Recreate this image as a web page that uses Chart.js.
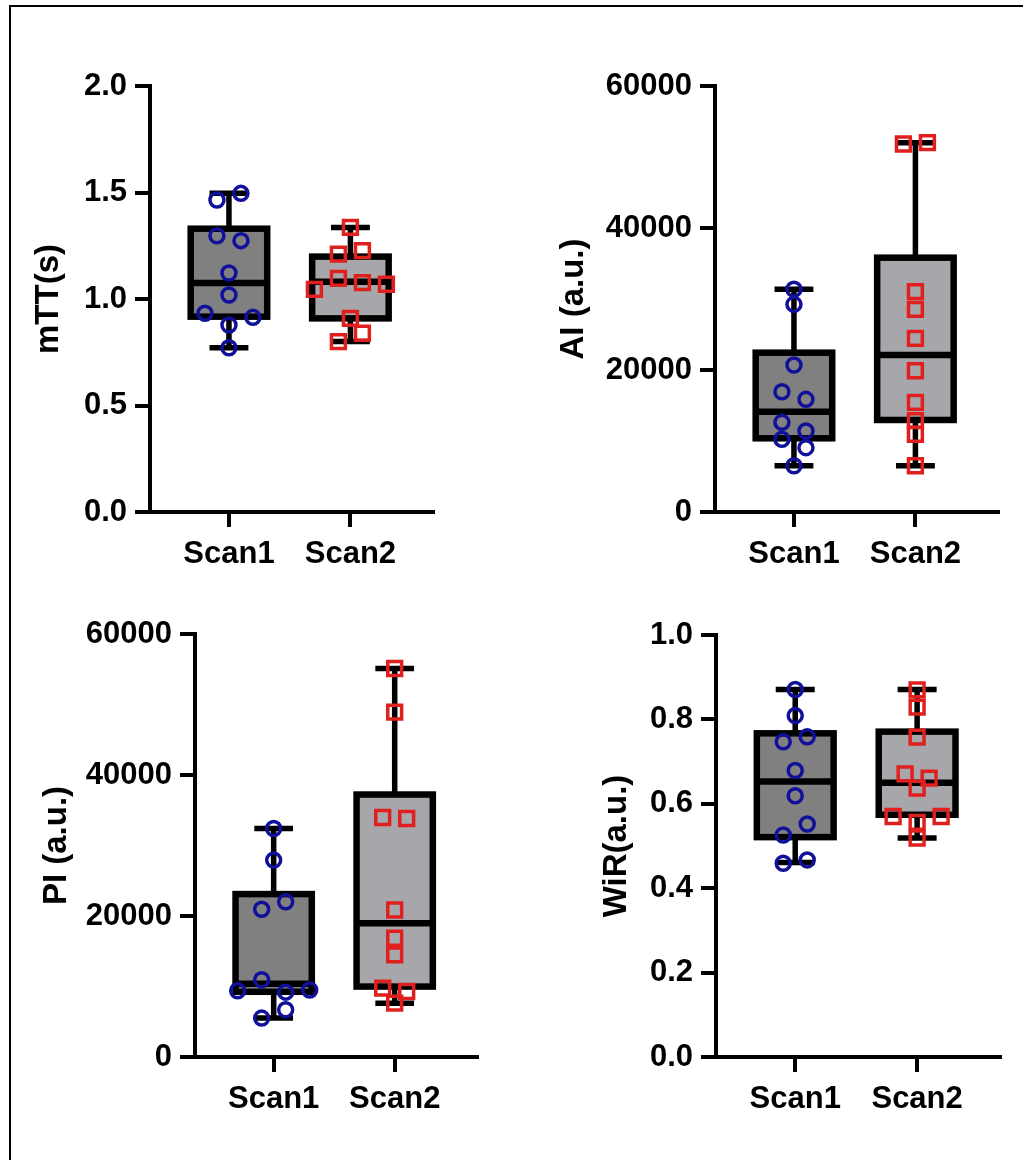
<!DOCTYPE html>
<html>
<head>
<meta charset="utf-8">
<script src="https://cdn.jsdelivr.net/npm/chart.js@4.4.1/dist/chart.umd.min.js"></script>
<style>
    html, body { margin: 0; padding: 0; background: #fff; }
    #page { position: relative; width: 1023px; height: 1160px; overflow: hidden; }
    #frame { position: absolute; left: 9px; top: 5px; width: 1100px; height: 1200px;
             border-top: 2px solid #000; border-left: 2px solid #000; }
    canvas { position: absolute; }
</style>
</head>
<body>
<div id="page">
    <div id="frame"></div>
    <canvas id="mttChart" width="511" height="580" style="left:0;top:0"></canvas>
    <canvas id="aiChart" width="512" height="580" style="left:511px;top:0"></canvas>
    <canvas id="piChart" width="511" height="580" style="left:0;top:580px"></canvas>
    <canvas id="wirChart" width="512" height="580" style="left:511px;top:580px"></canvas>
</div>
<script>
var categories = ['Scan1', 'Scan2'];

// values listed in the order they are laid out side by side
var mttScan1 = [1.465, 1.496, 1.297, 1.274, 1.122, 1.019, 0.933, 0.878, 0.914, 0.771];
var mttScan2 = [1.336, 1.211, 1.227, 1.045, 1.097, 1.077, 1.069, 0.909, 0.800, 0.839];
var aiScan1 = [31370, 29250, 20700, 16940, 15870, 12630, 11410, 10240, 9060, 6520];
var aiScan2 = [51830, 52020, 31030, 28540, 24460, 19900, 15450, 12860, 10950, 6520];
var piScan1 = [32410, 27930, 20950, 22030, 9400, 10950, 9200, 9500, 5520, 6700];
var piScan2 = [55100, 48920, 33970, 33830, 20850, 16840, 14480, 9770, 9290, 7640];
var wirScan1 = [0.871, 0.809, 0.747, 0.759, 0.679, 0.619, 0.526, 0.552, 0.459, 0.467];
var wirScan2 = [0.870, 0.829, 0.758, 0.671, 0.661, 0.637, 0.570, 0.556, 0.570, 0.519];

// box stats: min, q1, median, q3, max
var mttBox1 = [0.771, 0.917, 1.075, 1.330, 1.496];
var mttBox2 = [0.800, 0.909, 1.081, 1.199, 1.336];
var aiBox1 = [6520, 10380, 14130, 22440, 31370];
var aiBox2 = [6520, 12960, 22110, 35820, 52020];
var piBox1 = [5520, 9250, 10400, 23110, 32410];
var piBox2 = [7640, 9990, 18970, 37230, 55100];
var wirBox1 = [0.461, 0.521, 0.653, 0.767, 0.871];
var wirBox2 = [0.519, 0.574, 0.650, 0.771, 0.871];

var mttTicks = [0, 0.5, 1.0, 1.5, 2.0];
var aiTicks = [0, 20000, 40000, 60000];
var piTicks = [0, 20000, 40000, 60000];
var wirTicks = [0, 0.2, 0.4, 0.6, 0.8, 1.0];

var FONT = "'Liberation Sans', Arial, Helvetica, sans-serif";
var TITLE_SIZE = 33;
var BOX_FILLS = ['#808080', '#a6a6ab'];
var SWARM_STEP = 24;
var ROW_GAP = 13;

// spread points of similar value side by side, in pixel space
var swarmPlugin = {
    id: 'swarm',
    afterDatasetsUpdate: function (chart) {
        var xs = chart.scales.x;
        chart.data.datasets.forEach(function (ds, di) {
            var meta = chart.getDatasetMeta(di);
            var pts = meta.data.map(function (el, i) { return { el: el, i: i, y: el.y }; });
            pts.sort(function (a, b) { return (a.y - b.y) || (a.i - b.i); });
            var row = [];
            function flush() {
                row.sort(function (a, b) { return a.i - b.i; });
                row.forEach(function (p, k) {
                    p.el.x = xs.getPixelForValue(ds.data[p.i].x) + (k - (row.length - 1) / 2) * SWARM_STEP;
                });
                row = [];
            }
            pts.forEach(function (p) {
                if (row.length && p.y - row[0].y >= ROW_GAP) {
                    flush();
                }
                row.push(p);
            });
            flush();
        });
    }
};

var boxPlugin = {
    id: 'boxes',
    beforeDatasetsDraw: function (chart, args, opts) {
        var ctx = chart.ctx;
        var x = chart.scales.x;
        var y = chart.scales.y;
        ctx.save();
        ctx.strokeStyle = '#000';
        ctx.lineCap = 'butt';
        ctx.lineJoin = 'miter';
        opts.stats.forEach(function (s, k) {
            var c = k + 1;
            var cx = x.getPixelForValue(c);
            var bl = x.getPixelForValue(c - 0.315);
            var br = x.getPixelForValue(c + 0.315);
            var cl = x.getPixelForValue(c - 0.16);
            var cr = x.getPixelForValue(c + 0.16);
            var yMin = y.getPixelForValue(s[0]);
            var yQ1 = y.getPixelForValue(s[1]);
            var yMed = y.getPixelForValue(s[2]);
            var yQ3 = y.getPixelForValue(s[3]);
            var yMax = y.getPixelForValue(s[4]);

            ctx.lineWidth = 5.5;
            ctx.beginPath();
            ctx.moveTo(cx, yMax);
            ctx.lineTo(cx, yMin);
            ctx.moveTo(cl, yMax);
            ctx.lineTo(cr, yMax);
            ctx.moveTo(cl, yMin);
            ctx.lineTo(cr, yMin);
            ctx.stroke();

            ctx.fillStyle = BOX_FILLS[k];
            ctx.fillRect(bl, yQ3, br - bl, yQ1 - yQ3);
            ctx.lineWidth = 6.5;
            ctx.strokeRect(bl, yQ3, br - bl, yQ1 - yQ3);
            ctx.beginPath();
            ctx.moveTo(bl, yMed);
            ctx.lineTo(br, yMed);
            ctx.stroke();
        });
        ctx.restore();
    }
};

function createPanel(id, title, scan1, scan2, box1, box2, ticks, decimals, layout) {
    var el = document.getElementById(id);
    var cl = parseInt(el.style.left, 10) || 0;
    var ct = parseInt(el.style.top, 10) || 0;
    var titleHalf = TITLE_SIZE * 1.2 / 2;
    var padLeft = layout.tx - titleHalf - cl;
    var yWidth = layout.ax - cl - padLeft;
    var xHeight = ct + el.height - layout.ab;

    function points(values, c) {
        return values.map(function (v) { return { x: c, y: v }; });
    }

    new Chart(el, {
        type: 'scatter',
        data: {
            datasets: [
                {
                    data: points(scan1, 1),
                    pointStyle: 'circle',
                    pointRadius: 7,
                    pointBorderWidth: 3.5,
                    borderColor: '#10109a',
                    backgroundColor: 'rgba(0,0,0,0)'
                },
                {
                    data: points(scan2, 2),
                    pointStyle: 'rect',
                    pointRadius: 9.8,
                    pointBorderWidth: 3.5,
                    borderColor: '#e0201f',
                    backgroundColor: 'rgba(0,0,0,0)'
                }
            ]
        },
        options: {
            responsive: false,
            animation: false,
            events: [],
            layout: {
                padding: { left: padLeft, top: layout.at - ct, right: cl + el.width - layout.ar, bottom: 0 }
            },
            plugins: {
                legend: { display: false },
                tooltip: { enabled: false },
                boxes: { stats: [box1, box2] }
            },
            scales: {
                x: {
                    type: 'linear',
                    min: 0.35,
                    max: 2.68,
                    afterBuildTicks: function (scale) {
                        scale.ticks = categories.map(function (c, i) { return { value: i + 1 }; });
                    },
                    afterFit: function (scale) { scale.height = xHeight; },
                    border: { display: true, color: '#000', width: 4 },
                    grid: { display: true, drawOnChartArea: false, drawTicks: true, tickLength: 15, color: '#000', lineWidth: 4 },
                    ticks: {
                        padding: 9,
                        color: '#000',
                        maxRotation: 0,
                        font: { family: FONT, size: 31, weight: 'bold' },
                        callback: function (value) { return categories[value - 1]; }
                    }
                },
                y: {
                    min: ticks[0],
                    max: ticks[ticks.length - 1],
                    afterBuildTicks: function (scale) {
                        scale.ticks = ticks.map(function (v) { return { value: v }; });
                    },
                    afterFit: function (scale) { scale.width = yWidth; },
                    border: { display: true, color: '#000', width: 4 },
                    grid: { display: true, drawOnChartArea: false, drawTicks: true, tickLength: 15, color: '#000', lineWidth: 4 },
                    title: {
                        display: true,
                        text: title,
                        color: '#000',
                        padding: 0,
                        font: { family: FONT, size: TITLE_SIZE, weight: 'bold' }
                    },
                    ticks: {
                        padding: 8,
                        color: '#000',
                        font: { family: FONT, size: 31, weight: 'bold' },
                        callback: function (value) { return decimals ? value.toFixed(decimals) : String(value); }
                    }
                }
            }
        },
        plugins: [boxPlugin, swarmPlugin]
    });
}

createPanel('mttChart', 'mTT(s)', mttScan1, mttScan2, mttBox1, mttBox2, mttTicks, 1,
    { ax: 150, at: 86, ar: 433, ab: 512, tx: 49 });
createPanel('aiChart', 'AI (a.u.)', aiScan1, aiScan2, aiBox1, aiBox2, aiTicks, 0,
    { ax: 715, at: 86, ar: 998, ab: 512, tx: 574 });
createPanel('piChart', 'PI (a.u.)', piScan1, piScan2, piBox1, piBox2, piTicks, 0,
    { ax: 195, at: 634, ar: 477, ab: 1057, tx: 57 });
createPanel('wirChart', 'WiR(a.u.)', wirScan1, wirScan2, wirBox1, wirBox2, wirTicks, 1,
    { ax: 716, at: 635, ar: 1000, ab: 1057, tx: 617 });
</script>
</body>
</html>
